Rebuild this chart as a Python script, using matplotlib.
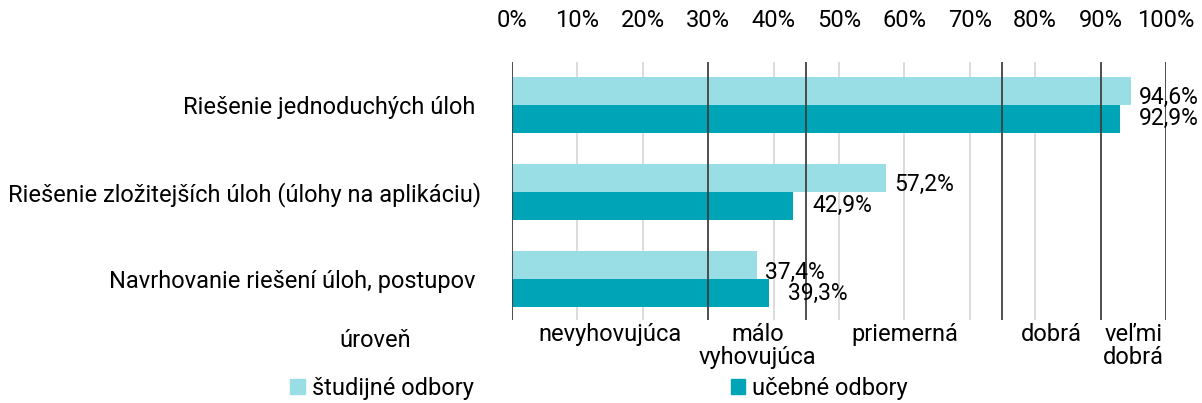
import matplotlib.pyplot as plt

plt.rcParams['font.family'] = ['Roboto', 'DejaVu Sans']

categories = ['Riešenie jednoduchých úloh ',
              'Riešenie zložitejších úloh (úlohy na aplikáciu)',
              'Navrhovanie riešení úloh, postupov ']
studijne = [94.6, 57.2, 37.4]
ucebne = [92.9, 42.9, 39.3]
series_names = ['študijné odbory', 'učebné odbory']

levels = ['nevyhovujúca', 'málo\nvyhovujúca', 'priemerná', 'dobrá', 'veľmi\ndobrá']
level_edges = [0, 30, 45, 75, 90, 100]
ticks = list(range(0, 101, 10))

light = '#98DEE4'
dark = '#00A4B7'

fig = plt.figure(figsize=(12.02, 4.03), dpi=100)
ax = fig.add_axes([0.426, 0.206, 0.544, 0.64])

h = 0.32
ypos = list(range(len(categories)))
ax.barh([y - h / 2 for y in ypos], studijne, height=h, color=light, zorder=3)
ax.barh([y + h / 2 for y in ypos], ucebne, height=h, color=dark, zorder=3)

for y, v in zip(ypos, studijne):
    ax.annotate(f'{v:.1f}%'.replace('.', ','), (v, y - h / 2), xytext=(6, -5),
                textcoords='offset points', ha='left', va='center', fontsize=16.5, zorder=5)
for y, v in zip(ypos, ucebne):
    ax.annotate(f'{v:.1f}%'.replace('.', ','), (v, y + h / 2), xytext=(14, 0),
                textcoords='offset points', ha='left', va='center', fontsize=16.5, zorder=5)

# light grid behind bars, level boundaries on top
for t in ticks:
    if t not in level_edges:
        ax.axvline(t, color='#d9d9d9', lw=1.3, zorder=1)
for e in level_edges:
    ax.axvline(e, color='#404040', lw=1.3, zorder=4)

ax.set_xlim(0, 100)
ax.set_ylim(2.47, -0.49)
ax.xaxis.tick_top()
ax.set_xticks(ticks)
ax.set_xticklabels([f'{t}%' for t in ticks], fontsize=17)
ax.set_yticks(ypos)
ax.set_yticklabels(categories, fontsize=17)
ax.tick_params(axis='x', length=0, pad=22)
ax.tick_params(axis='y', length=0, pad=22)
for s in ax.spines.values():
    s.set_visible(False)

for i, lab in enumerate(levels):
    mid = (level_edges[i] + level_edges[i + 1]) / 2
    ax.text(mid, -0.01, lab, transform=ax.get_xaxis_transform(), ha='center', va='top',
            fontsize=17, linespacing=1.0)
fig.text(0.312, 0.155, 'úroveň', ha='center', va='center', fontsize=17)

handles = [plt.Rectangle((0, 0), 1, 1, color=light), plt.Rectangle((0, 0), 1, 1, color=dark)]
fig.legend(handles, series_names, loc='lower left', bbox_to_anchor=(0.224, -0.045), ncol=2,
           frameon=False, fontsize=17, handlelength=0.6, handleheight=0.6,
           handletextpad=0.3, columnspacing=10.9)

fig.savefig('out.png', dpi=100)
